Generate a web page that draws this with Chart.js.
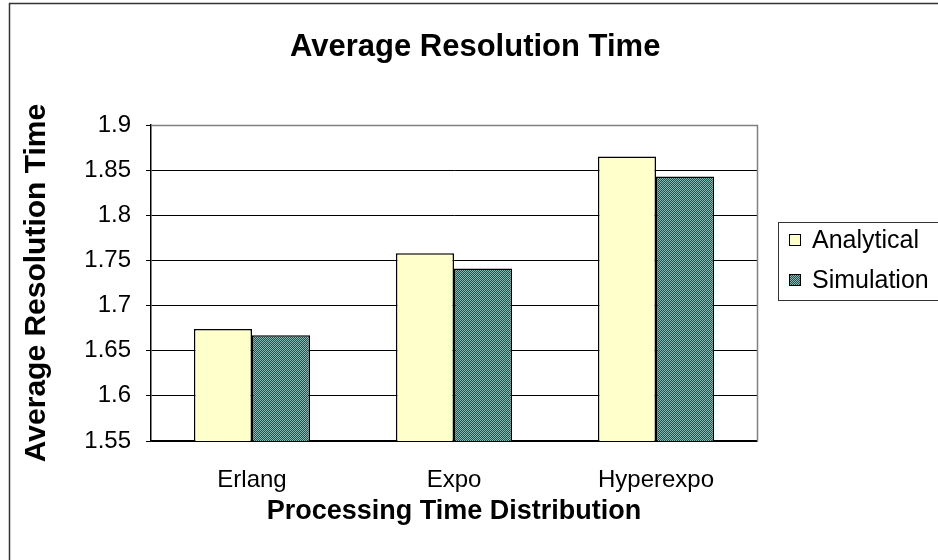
<!DOCTYPE html>
<html>
<head>
<meta charset="utf-8">
<script src="https://cdn.jsdelivr.net/npm/chart.js@4"></script>
<style>
  html, body { margin: 0; padding: 0; background: #fff; }
  #wrap { width: 938px; height: 560px; }
</style>
</head>
<body>
<div id="wrap"><canvas id="grafico" width="938" height="560"></canvas></div>
<script>
// ---- data ----
const categorias = ["Erlang", "Expo", "Hyperexpo"];
const analitico = [1.674, 1.758, 1.865];
const simulacao = [1.667, 1.741, 1.843];
const nomesSeries = ["Analytical", "Simulation"];
const tituloGrafico = "Average Resolution Time";
const tituloX = "Processing Time Distribution";
const tituloY = "Average Resolution Time";

const FONTE = "'Liberation Sans', Arial, sans-serif";

// checker pattern for the simulation bars
function criarPadrao() {
    const c = document.createElement("canvas");
    c.width = 2; c.height = 2;
    const g = c.getContext("2d");
    g.fillStyle = "#86bab4"; g.fillRect(0, 0, 2, 2);
    g.fillStyle = "#2e4a4a"; g.fillRect(1, 0, 1, 1); g.fillRect(0, 1, 1, 1);
    return g.createPattern(c, "repeat");
}
const padrao = criarPadrao();

// frame, plot border, title and legend drawn by hand
const molduraPlugin = {
    id: "moldura",
    beforeDatasetsDraw(chart) {
        const { ctx, chartArea: a } = chart;
        ctx.save();
        ctx.strokeStyle = "#808080";
        ctx.lineWidth = 1.5;
        ctx.beginPath();
        ctx.moveTo(a.left, a.top + 0.5);
        ctx.lineTo(a.right + 0.5, a.top + 0.5);
        ctx.lineTo(a.right + 0.5, a.bottom);
        ctx.stroke();
        ctx.restore();
    },
    afterDraw(chart) {
        const ctx = chart.ctx;
        ctx.save();
        // outer frame
        ctx.strokeStyle = "#333";
        ctx.lineWidth = 1.5;
        ctx.strokeRect(9.5, 3.5, 940, 570);
        // title
        ctx.fillStyle = "#000";
        ctx.font = "bold 31px " + FONTE;
        ctx.textAlign = "left";
        ctx.textBaseline = "middle";
        ctx.fillText(tituloGrafico, 290, 47);
        // legend
        ctx.lineWidth = 1;
        ctx.strokeStyle = "#333";
        ctx.strokeRect(778.5, 222.5, 170, 78);
        const cores = [chart.data.datasets[0].backgroundColor, chart.data.datasets[1].backgroundColor];
        ctx.font = "25px " + FONTE;
        nomesSeries.forEach((nome, i) => {
            const y = 240 + i * 40;
            ctx.fillStyle = cores[i];
            ctx.fillRect(789, y - 6, 11, 11);
            ctx.strokeStyle = "#000";
            ctx.strokeRect(789.5, y - 5.5, 11, 11);
            ctx.fillStyle = "#000";
            ctx.fillText(nome, 812, y + 1);
        });
        ctx.restore();
    }
};

new Chart(document.getElementById("grafico"), {
    type: "bar",
    data: {
        labels: categorias,
        datasets: [
            { label: nomesSeries[0], data: analitico, backgroundColor: "#ffffcc", borderColor: "#000", borderWidth: 1.5 },
            { label: nomesSeries[1], data: simulacao, backgroundColor: padrao, borderColor: "#000", borderWidth: 1.5 }
        ]
    },
    options: {
        responsive: false,
        animation: false,
        devicePixelRatio: 1,
        layout: { padding: { top: 125, right: 181, left: 0, bottom: 0 } },
        datasets: { bar: { barPercentage: 1, categoryPercentage: 0.575 } },
        plugins: { legend: { display: false }, title: { display: false }, tooltip: { enabled: false } },
        scales: {
            x: {
                afterFit: s => { s.height = 119; },
                grid: { display: false, drawTicks: false },
                border: { color: "#000", width: 1.5 },
                ticks: { color: "#000", font: { family: FONTE, size: 24 }, padding: 25 },
                title: { display: true, text: tituloX, color: "#000", font: { family: FONTE, size: 27, weight: "bold" }, padding: { top: 0, bottom: 32 } }
            },
            y: {
                min: 1.55, max: 1.9,
                afterFit: s => { s.width = 151; },
                grid: { color: "#000", lineWidth: 1, tickLength: 5, tickColor: "#000" },
                border: { color: "#000", width: 1.5 },
                ticks: { stepSize: 0.05, color: "#000", font: { family: FONTE, size: 24 }, padding: 15,
                    callback: v => String(parseFloat(v.toFixed(2))) },
                title: { display: true, text: tituloY, color: "#000", font: { family: FONTE, size: 30, weight: "bold" }, padding: { top: 19, bottom: 0 } }
            }
        }
    },
    plugins: [molduraPlugin]
});
</script>
</body>
</html>
